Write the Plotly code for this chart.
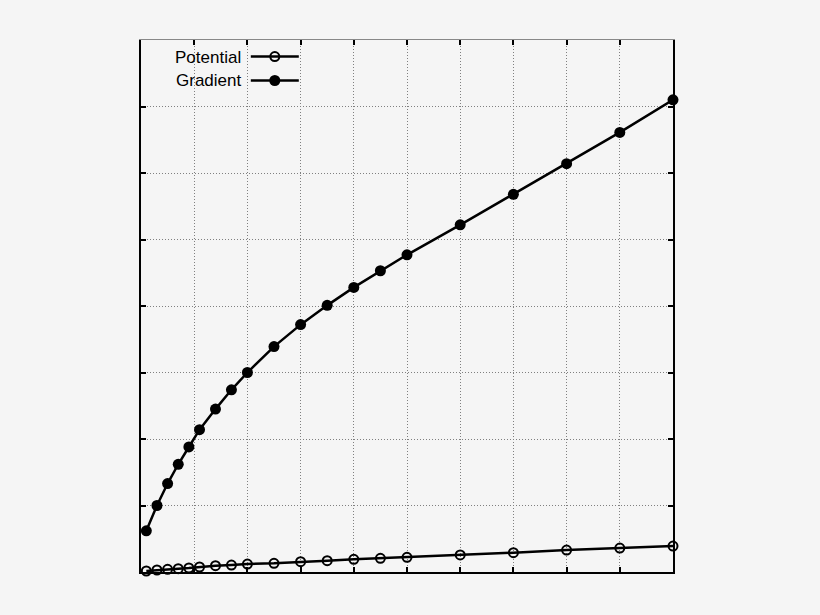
import plotly.graph_objects as go

x_vals = [0.1, 0.3, 0.5, 0.7, 0.9, 1.1, 1.4, 1.7, 2.0, 2.5, 3.0, 3.5, 4.0, 4.5, 5.0, 6, 7, 8, 9, 10]
gradient = [0.62, 1.00, 1.33, 1.62, 1.88, 2.14, 2.45, 2.74, 3.00, 3.39, 3.72, 4.01, 4.28, 4.53, 4.77,
            5.22, 5.68, 6.14, 6.61, 7.10]
potential = [0.015, 0.03, 0.04, 0.05, 0.06, 0.075, 0.095, 0.105, 0.12, 0.13, 0.155, 0.17, 0.19, 0.205,
             0.22, 0.256, 0.29, 0.33, 0.36, 0.39]
series_names = ["Potential", "Gradient"]

BG = "#f5f5f5"
FONT = "Liberation Sans, Arial, sans-serif"

fig = go.Figure()
fig.add_trace(go.Scatter(
    x=x_vals, y=potential, mode="lines+markers", name=" ",
    line=dict(color="black", width=2.5),
    marker=dict(symbol="circle-open", size=9, color="black", line=dict(width=2)),
    cliponaxis=False, legend="legend"))
fig.add_trace(go.Scatter(
    x=x_vals, y=gradient, mode="lines+markers", name=" ",
    line=dict(color="black", width=2.5),
    marker=dict(symbol="circle", size=11, color="black"),
    cliponaxis=False, legend="legend2"))
# empty helper trace so the top (gray) frame axis is drawn
fig.add_trace(go.Scatter(x=[None], y=[None], xaxis="x2", yaxis="y", mode="lines",
                         showlegend=False, hoverinfo="skip"))

grid_common = dict(showgrid=True, gridcolor="#808080", griddash="1px,2px", gridwidth=1)
tick_common = dict(ticks="inside", ticklen=5, tickwidth=1.5, tickcolor="black",
                   showticklabels=False, zeroline=False, dtick=1)

fig.update_layout(
    xaxis=dict(range=[0, 10], showline=True, linecolor="black", linewidth=2, mirror=False,
               **grid_common, **tick_common),
    xaxis2=dict(range=[0, 10], overlaying="x", side="top", anchor="y", showline=True,
                linecolor="#888888", linewidth=1, showgrid=False, **tick_common),
    yaxis=dict(range=[0, 8], showline=True, linecolor="black", linewidth=2, mirror="ticks",
               **grid_common, **tick_common),
)

leg_common = dict(xref="paper", yref="paper", xanchor="left", yanchor="middle",
                  bgcolor="rgba(0,0,0,0)", font=dict(family=FONT, size=17, color="black"),
                  itemwidth=48)

fig.update_layout(
    width=820, height=615,
    margin=dict(l=141, r=147, t=40, b=43),
    paper_bgcolor=BG, plot_bgcolor=BG,
    showlegend=True,
    legend=dict(x=0.197, y=0.968, **leg_common),
    legend2=dict(x=0.197, y=0.923, **leg_common),
    annotations=[
        dict(text=series_names[0], x=0.191, y=0.968, xref="paper", yref="paper",
             xanchor="right", yanchor="middle", showarrow=False,
             font=dict(family=FONT, size=17, color="black")),
        dict(text=series_names[1], x=0.191, y=0.923, xref="paper", yref="paper",
             xanchor="right", yanchor="middle", showarrow=False,
             font=dict(family=FONT, size=17, color="black")),
    ],
)

fig.write_html(
    "out.html",
    config={"displayModeBar": False},
    post_script="document.body.style.margin='0';document.body.style.background='#f5f5f5';",
)
